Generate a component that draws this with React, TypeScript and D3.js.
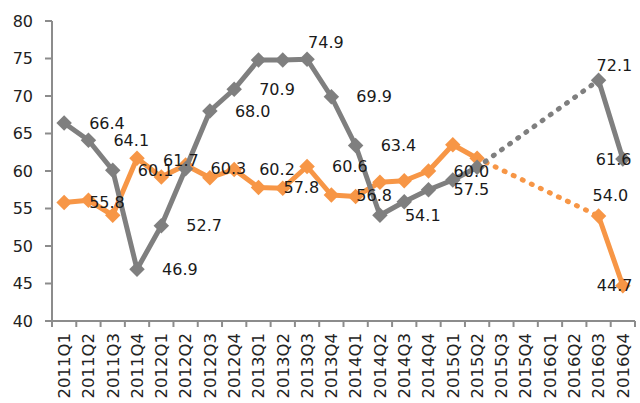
import * as d3 from 'd3';

// quarters on the x axis
const quarters = [
  '2011Q1', '2011Q2', '2011Q3', '2011Q4',
  '2012Q1', '2012Q2', '2012Q3', '2012Q4',
  '2013Q1', '2013Q2', '2013Q3', '2013Q4',
  '2014Q1', '2014Q2', '2014Q3', '2014Q4',
  '2015Q1', '2015Q2', '2015Q3', '2015Q4',
  '2016Q1', '2016Q2', '2016Q3', '2016Q4',
];

const grayValues: (number | null)[] = [
  66.4, 64.1, 60.1, 46.9, 52.7, 60.3, 68.0, 70.9, 74.8, 74.8, 74.9, 69.9,
  63.4, 54.1, 55.9, 57.5, 58.8, 60.5, null, null, null, null, 72.1, 61.6,
];
const orangeValues: (number | null)[] = [
  55.8, 56.1, 54.1, 61.7, 59.2, 60.8, 59.1, 60.2, 57.8, 57.7, 60.6, 56.8,
  56.6, 58.5, 58.7, 60.0, 63.5, 61.7, null, null, null, null, 54.0, 44.7,
];

const yTicks = [40, 45, 50, 55, 60, 65, 70, 75, 80];

// which points carry a data label
const grayLabelIdx = [0, 1, 2, 3, 4, 5, 6, 7, 10, 11, 12, 13, 15, 22, 23];
const orangeLabelIdx = [0, 3, 7, 8, 10, 11, 15, 22, 23];

// label nudges (default: to the right of the marker)
const grayNudge: Record<number, [number, number]> = { 10: [1, -17], 22: [-2, -15], 23: [-27, 0] };
const orangeNudge: Record<number, [number, number]> = { 3: [26, 2], 22: [-6, -21], 23: [-26, 0] };

const W = 640;
const H = 403;
const left = 52;
const right = 635;
const top = 21;
const bottom = 321;

const GRAY = '#7f7f7f';
const ORANGE = '#f79646';
const AXIS = '#8c8c8c';
const FONT = '"DejaVu Sans", sans-serif';

export default function App() {
  const x = d3.scaleBand<string>().domain(quarters).range([left, right]);
  const y = d3.scaleLinear().domain([40, 80]).range([bottom, top]);
  const cx = (i: number) => (x(quarters[i]) as number) + x.bandwidth() / 2;

  const line = d3
    .line<number | null>()
    .defined((d) => d != null)
    .x((_, i) => cx(i))
    .y((d) => y(d as number));

  const diamond = d3.symbol().type(d3.symbolSquare).size(120)() as string;

  const gapLine = (vals: (number | null)[]) => {
    const a = vals.findIndex((v, i) => v != null && vals[i + 1] == null);
    const b = vals.findIndex((v, i) => i > a && v != null);
    return `M${cx(a)},${y(vals[a] as number)}L${cx(b)},${y(vals[b] as number)}`;
  };

  const series = [
    { vals: orangeValues, color: ORANGE },
    { vals: grayValues, color: GRAY },
  ];

  const labels = [
    ...orangeLabelIdx.map((i) => ({ i, v: orangeValues[i] as number, n: orangeNudge[i] || [25, 0] })),
    ...grayLabelIdx.map((i) => ({ i, v: grayValues[i] as number, n: grayNudge[i] || [25, 0] })),
  ];

  const bounds = quarters.map((q) => x(q) as number).concat([right]);

  return (
    <svg width={W} height={H} style={{ position: 'absolute', left: 0, top: 0, background: '#fff' }}>
      {/* y axis */}
      <line x1={left} x2={left} y1={top} y2={bottom} stroke={AXIS} strokeWidth={2} />
      {yTicks.map((t) => (
        <g key={t}>
          <line x1={left - 7} x2={left} y1={y(t)} y2={y(t)} stroke={AXIS} strokeWidth={2} />
          <text x={33} y={y(t)} dy="0.35em" textAnchor="end" fontFamily={FONT} fontSize={16} fill="#222">
            {t}
          </text>
        </g>
      ))}
      {/* x axis */}
      <line x1={left} x2={right} y1={bottom} y2={bottom} stroke={AXIS} strokeWidth={2} />
      {bounds.map((b, i) => (
        <line key={i} x1={b} x2={b} y1={bottom} y2={bottom + 6} stroke={AXIS} strokeWidth={2} />
      ))}
      {quarters.map((q, i) => (
        <text
          key={q}
          transform={`translate(${cx(i)},333) rotate(-90)`}
          dy="0.35em"
          textAnchor="end"
          fontFamily={FONT}
          fontSize={16.5}
          fill="#222"
        >
          {q}
        </text>
      ))}

      {series.map((s) => (
        <g key={s.color}>
          <path d={gapLine(s.vals)} fill="none" stroke={s.color} strokeWidth={5} strokeDasharray="1 9" strokeLinecap="round" />
          <path d={line(s.vals) as string} fill="none" stroke={s.color} strokeWidth={5} strokeLinejoin="round" />
          {s.vals.map((v, i) =>
            v == null ? null : (
              <path key={i} d={diamond} transform={`translate(${cx(i)},${y(v)}) rotate(45)`} fill={s.color} />
            )
          )}
        </g>
      ))}

      {labels.map((l, k) => (
        <text
          key={k}
          x={cx(l.i) + l.n[0]}
          y={y(l.v) + l.n[1]}
          dy="0.35em"
          fontFamily={FONT}
          fontSize={16}
          fill="#1a1a1a"
        >
          {l.v.toFixed(1)}
        </text>
      ))}
    </svg>
  );
}
